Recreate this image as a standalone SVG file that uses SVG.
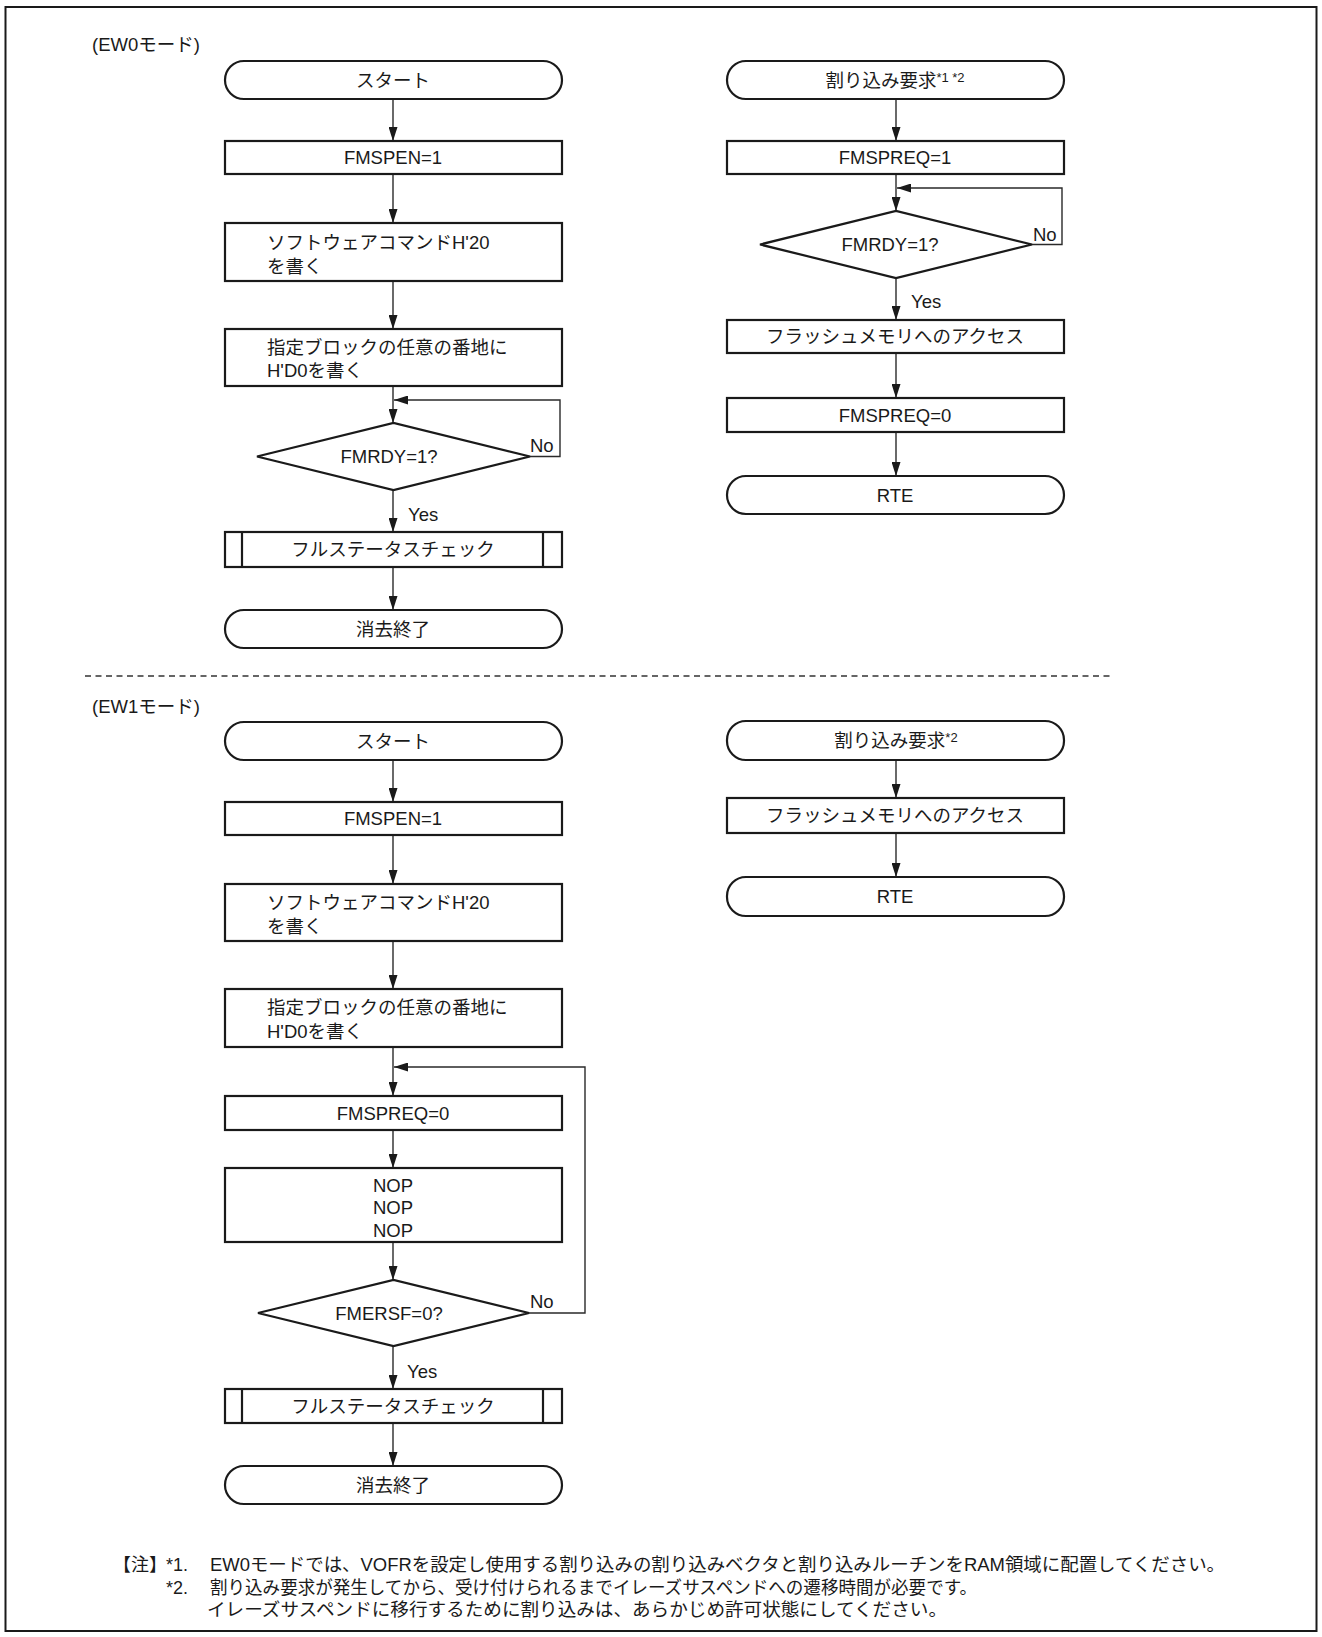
<svg xmlns="http://www.w3.org/2000/svg" width="1322" height="1637" viewBox="0 0 1322 1637">
<style>
.sh{fill:#fff;stroke:#1a1a1a;stroke-width:2.2}
.ln{fill:none;stroke:#2a2a2a;stroke-width:1.4}
.t{font-family:"Liberation Sans","Noto Sans CJK JP",sans-serif;font-size:18.5px;fill:#1a1a1a}
.c{text-anchor:middle}
.sup{font-size:13px}
.n{font-family:"Liberation Sans","Noto Sans CJK JP",sans-serif;font-size:18px;fill:#1a1a1a}
</style>
<defs>
<marker id="ah" markerUnits="userSpaceOnUse" markerWidth="14" markerHeight="9" refX="14" refY="4.5" orient="auto">
<path d="M0,0 L14,4.5 L0,9 z" fill="#1a1a1a"/>
</marker>
</defs>
<rect x="5.5" y="7" width="1311" height="1624" fill="#fff" stroke="#1a1a1a" stroke-width="2"/>

<g id="labels">
<text class="t" x="92" y="51">(EW0モード)</text>
<text class="t" x="92" y="713">(EW1モード)</text>
<line x1="85" y1="676" x2="1113" y2="676" stroke="#333" stroke-width="1.5" stroke-dasharray="6 4.5"/>
</g>

<g id="connectors" class="ln" marker-end="url(#ah)">
<path d="M393,99 V141"/>
<path d="M393,174 V223"/>
<path d="M393,281 V329"/>
<path d="M393,386 V423"/>
<path d="M530,456.5 H560 V400 H394"/>
<path d="M393,490 V532"/>
<path d="M393,567 V610"/>
<path d="M896,99 V141"/>
<path d="M896,174 V211"/>
<path d="M1032,244.5 H1062 V188 H897"/>
<path d="M896,278 V320"/>
<path d="M896,353 V398"/>
<path d="M896,432 V476"/>
<path d="M393,760 V802"/>
<path d="M393,835 V884"/>
<path d="M393,941 V989"/>
<path d="M393,1047 V1096"/>
<path d="M529,1313 H585 V1067 H394"/>
<path d="M393,1130 V1168"/>
<path d="M393,1242 V1280"/>
<path d="M393,1346 V1389"/>
<path d="M393,1423 V1466"/>
<path d="M896,760 V798"/>
<path d="M896,833 V877"/>
</g>

<g id="edge-labels" class="t">
<text x="530" y="452">No</text>
<text x="408" y="521">Yes</text>
<text x="1033" y="241">No</text>
<text x="911" y="308">Yes</text>
<text x="530" y="1308">No</text>
<text x="407" y="1378">Yes</text>
</g>

<!-- EW0 left -->
<g id="ew0-start"><rect class="sh" x="225" y="61" width="337" height="38" rx="19"/><text class="t c" x="393" y="86.5">スタート</text></g>
<g id="ew0-fmspen"><rect class="sh" x="225" y="141" width="337" height="33"/><text class="t c" x="393" y="164">FMSPEN=1</text></g>
<g id="ew0-cmd20"><rect class="sh" x="225" y="223" width="337" height="58"/><text class="t" x="267" y="248.5">ソフトウェアコマンドH'20</text><text class="t" x="267" y="272.5">を書く</text></g>
<g id="ew0-d0"><rect class="sh" x="225" y="329" width="337" height="57"/><text class="t" x="267" y="353.5">指定ブロックの任意の番地に</text><text class="t" x="267" y="377">H'D0を書く</text></g>
<g id="ew0-fmrdy"><polygon class="sh" points="257,456.5 393.5,423 530,456.5 393.5,490"/><text class="t c" x="389" y="463">FMRDY=1?</text></g>
<g id="ew0-check"><rect class="sh" x="225" y="532" width="337" height="35"/><line class="sh" x1="242" y1="532" x2="242" y2="567"/><line class="sh" x1="543" y1="532" x2="543" y2="567"/><text class="t c" x="393" y="556">フルステータスチェック</text></g>
<g id="ew0-end"><rect class="sh" x="225" y="610" width="337" height="38" rx="19"/><text class="t c" x="393" y="635.5">消去終了</text></g>

<!-- EW0 right -->
<g id="ew0-int"><rect class="sh" x="727" y="61" width="337" height="38" rx="19"/><text class="t c" x="895" y="86.5">割り込み要求<tspan class="sup" dy="-5">*1 *2</tspan></text></g>
<g id="ew0-req1"><rect class="sh" x="727" y="141" width="337" height="33"/><text class="t c" x="895" y="164">FMSPREQ=1</text></g>
<g id="ew0-rdy2"><polygon class="sh" points="760,244.5 896,211 1032,244.5 896,278"/><text class="t c" x="890" y="251">FMRDY=1?</text></g>
<g id="ew0-access"><rect class="sh" x="727" y="320" width="337" height="33"/><text class="t c" x="895" y="343">フラッシュメモリへのアクセス</text></g>
<g id="ew0-req0"><rect class="sh" x="727" y="398" width="337" height="34"/><text class="t c" x="895" y="421.5">FMSPREQ=0</text></g>
<g id="ew0-rte"><rect class="sh" x="727" y="476" width="337" height="38" rx="19"/><text class="t c" x="895" y="501.5">RTE</text></g>

<!-- EW1 left -->
<g id="ew1-start"><rect class="sh" x="225" y="722" width="337" height="38" rx="19"/><text class="t c" x="393" y="747.5">スタート</text></g>
<g id="ew1-fmspen"><rect class="sh" x="225" y="802" width="337" height="33"/><text class="t c" x="393" y="825">FMSPEN=1</text></g>
<g id="ew1-cmd20"><rect class="sh" x="225" y="884" width="337" height="57"/><text class="t" x="267" y="908.5">ソフトウェアコマンドH'20</text><text class="t" x="267" y="932.5">を書く</text></g>
<g id="ew1-d0"><rect class="sh" x="225" y="989" width="337" height="58"/><text class="t" x="267" y="1013.5">指定ブロックの任意の番地に</text><text class="t" x="267" y="1037.5">H'D0を書く</text></g>
<g id="ew1-req0"><rect class="sh" x="225" y="1096" width="337" height="34"/><text class="t c" x="393" y="1119.5">FMSPREQ=0</text></g>
<g id="ew1-nop"><rect class="sh" x="225" y="1168" width="337" height="74"/><text class="t c" x="393" y="1191.5">NOP</text><text class="t c" x="393" y="1214">NOP</text><text class="t c" x="393" y="1236.5">NOP</text></g>
<g id="ew1-fmersf"><polygon class="sh" points="258,1313 393.5,1280 529,1313 393.5,1346"/><text class="t c" x="389" y="1319.5">FMERSF=0?</text></g>
<g id="ew1-check"><rect class="sh" x="225" y="1389" width="337" height="34"/><line class="sh" x1="242" y1="1389" x2="242" y2="1423"/><line class="sh" x1="543" y1="1389" x2="543" y2="1423"/><text class="t c" x="393" y="1412.5">フルステータスチェック</text></g>
<g id="ew1-end"><rect class="sh" x="225" y="1466" width="337" height="38" rx="19"/><text class="t c" x="393" y="1491.5">消去終了</text></g>

<!-- EW1 right -->
<g id="ew1-int"><rect class="sh" x="727" y="721" width="337" height="39" rx="19"/><text class="t c" x="896" y="747">割り込み要求<tspan class="sup" dy="-5">*2</tspan></text></g>
<g id="ew1-access"><rect class="sh" x="727" y="798" width="337" height="35"/><text class="t c" x="895" y="822">フラッシュメモリへのアクセス</text></g>
<g id="ew1-rte"><rect class="sh" x="727" y="877" width="337" height="39" rx="19"/><text class="t c" x="895" y="903">RTE</text></g>

<g id="notes" class="n">
<text x="113" y="1571">【注】</text>
<text x="166" y="1571">*1.</text>
<text x="210" y="1571" textLength="1015" lengthAdjust="spacingAndGlyphs">EW0モードでは、VOFRを設定し使用する割り込みの割り込みベクタと割り込みルーチンをRAM領域に配置してください。</text>
<text x="166" y="1593.5">*2.</text>
<text x="210" y="1593.5" textLength="767" lengthAdjust="spacingAndGlyphs">割り込み要求が発生してから、受け付けられるまでイレーズサスペンドへの遷移時間が必要です。</text>
<text x="207" y="1616" textLength="740" lengthAdjust="spacingAndGlyphs">イレーズサスペンドに移行するために割り込みは、あらかじめ許可状態にしてください。</text>
</g>
</svg>
